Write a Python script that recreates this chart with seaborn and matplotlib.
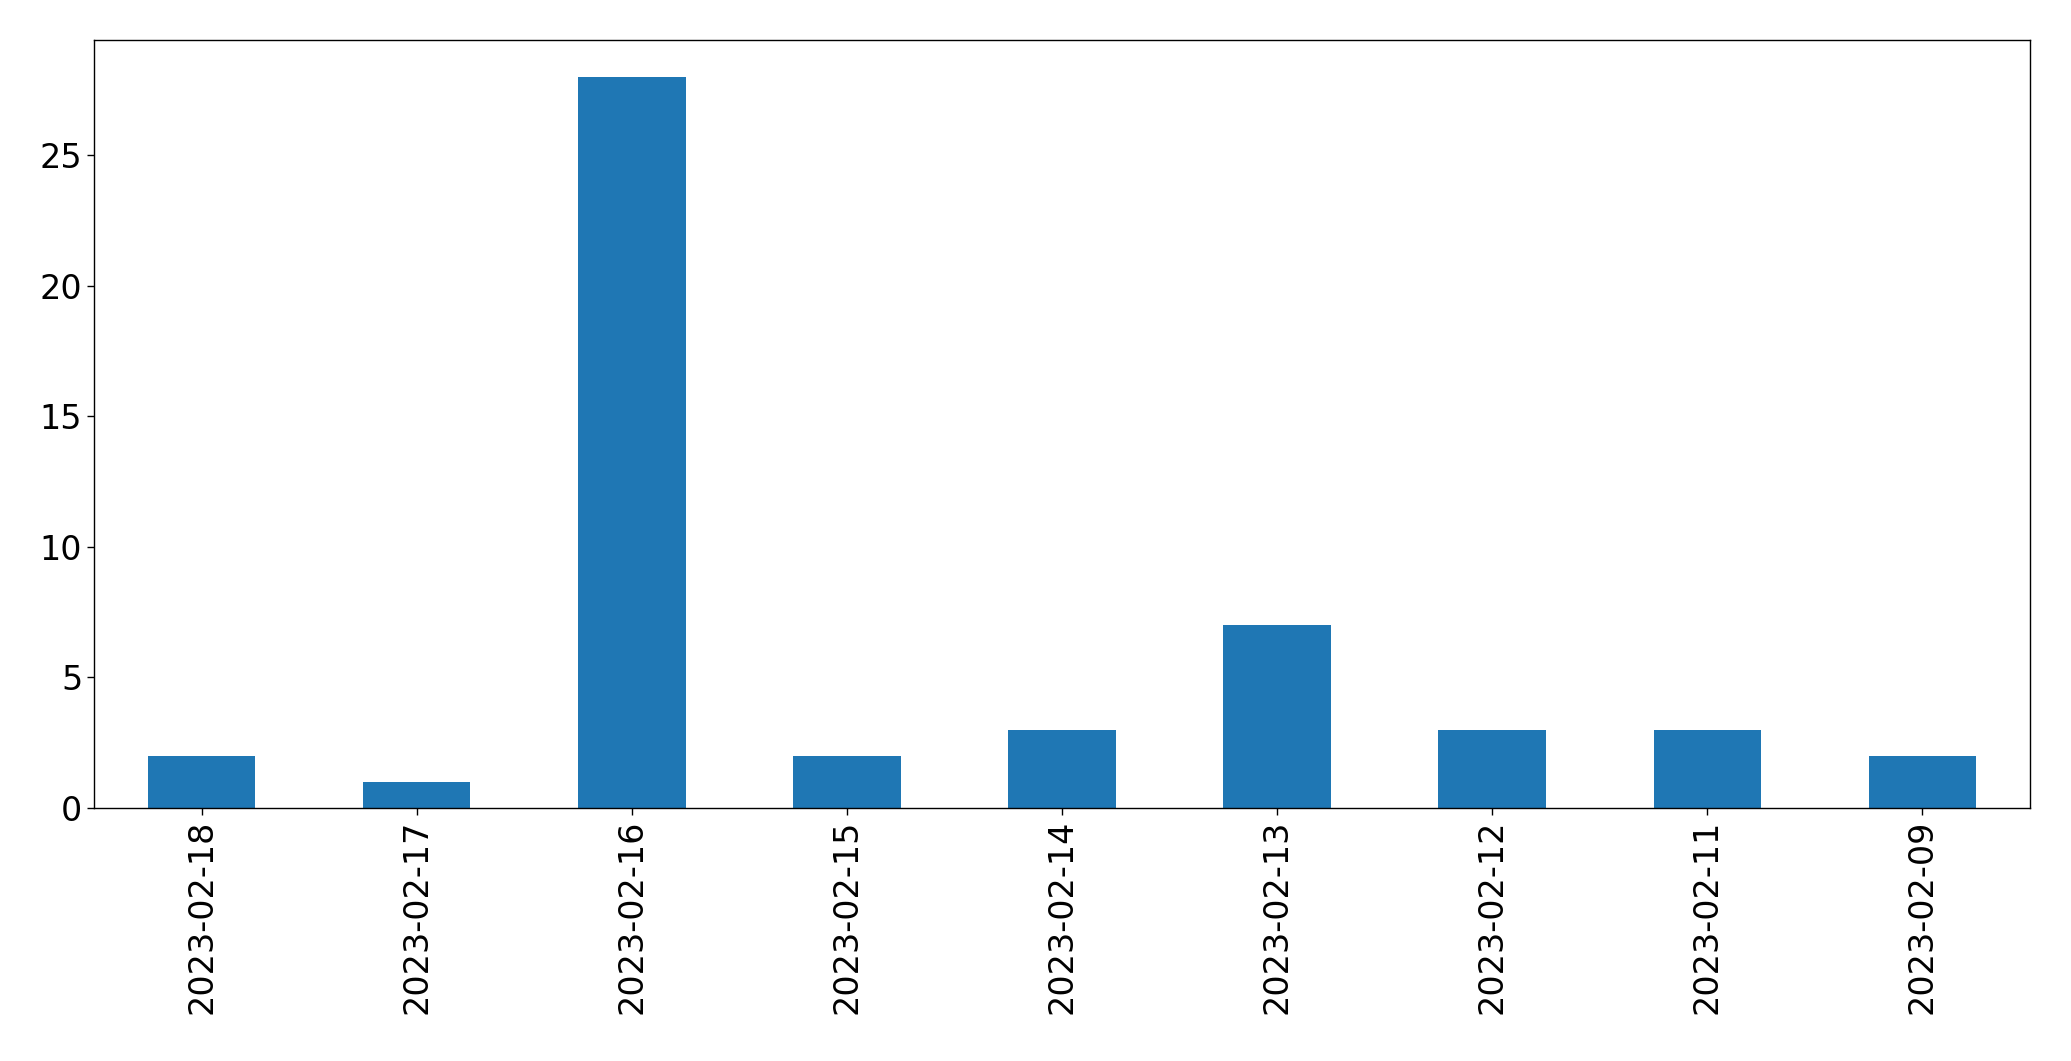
import matplotlib
matplotlib.use("Agg")
import matplotlib.pyplot as plt
import pandas as pd
import seaborn as sns

dates = ["2023-02-18", "2023-02-17", "2023-02-16", "2023-02-15", "2023-02-14",
         "2023-02-13", "2023-02-12", "2023-02-11", "2023-02-09"]
counts = [2, 1, 28, 2, 3, 7, 3, 3, 2]

sns.set_style("white")
plt.rcParams["font.family"] = ["DejaVu Sans"]
plt.rcParams["text.color"] = "black"
plt.rcParams["xtick.color"] = "black"
plt.rcParams["ytick.color"] = "black"

df = pd.DataFrame({"date": dates, "count": counts})

W, H = 2071, 1061
fig = plt.figure(figsize=(W / 100, H / 100), dpi=100)
ax = fig.add_axes([94 / W, 1 - 808 / H, (2030 - 94) / W, (808 - 40) / H])

sns.barplot(data=df, x="date", y="count", order=dates, color="#1f77b4",
            saturation=1, width=0.5, linewidth=0, ax=ax)

ax.set_xlim(-0.5, len(dates) - 0.5)
ax.set_ylim(0, max(counts) * 1.05)
ax.set_xlabel("")
ax.set_ylabel("")
ax.tick_params(axis="x", labelrotation=90, labelsize=24, length=5, width=1,
               bottom=True, colors="black")
ax.tick_params(axis="y", labelsize=24, length=5, width=1, left=True, colors="black")
for s in ax.spines.values():
    s.set_color("black")
    s.set_linewidth(1)

fig.savefig("out.png", dpi=100)
